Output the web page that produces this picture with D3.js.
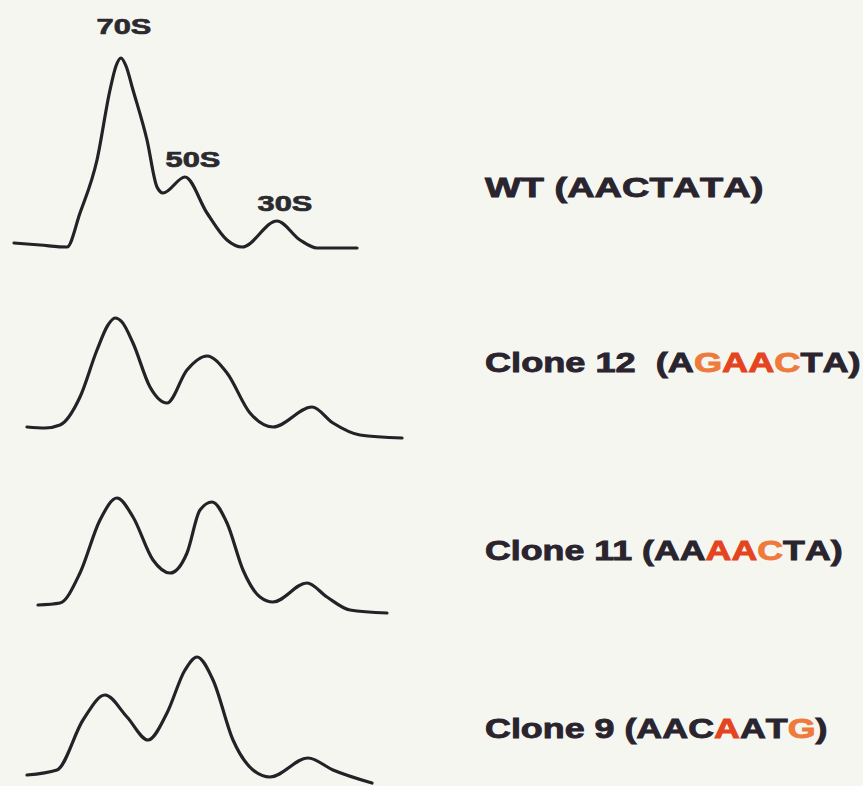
<!DOCTYPE html>
<html>
<head>
<meta charset="utf-8">
<script src="https://cdn.jsdelivr.net/npm/d3@7"></script>
<style>
  html, body { margin: 0; padding: 0; background: #f6f6f1; }
  svg { display: block; }
</style>
</head>
<body>
<svg id="chart" width="863" height="786"></svg>
<script>
// gradient fraction (x) and relative A260 (y)
const wtFraction = [0.4, 3.0, 5.7, 7.0, 8.7, 10.0, 10.6, 11.1, 11.6, 12.3, 13.7, 14.7, 15.3, 17.5, 19.7, 21.7, 23.2, 26.7, 29.0, 30.7, 34.7];
const wtAbs      = [0.035, 0.025, 0.015, 0.185, 0.45, 0.80, 0.92, 0.96, 0.92, 0.80, 0.55, 0.315, 0.285, 0.365, 0.185, 0.05, 0.015, 0.145, 0.05, 0.01, 0.01];

const c12Fraction = [1.7, 3.5, 5.0, 7.0, 8.7, 9.8, 10.5, 11.2, 12.3, 14.0, 15.7, 17.7, 19.7, 21.7, 24.0, 26.3, 30.2, 32.3, 35.0, 39.2];
const c12Abs      = [0.065, 0.06, 0.075, 0.215, 0.45, 0.575, 0.61, 0.59, 0.485, 0.265, 0.185, 0.35, 0.42, 0.335, 0.135, 0.065, 0.165, 0.085, 0.025, 0.01];

const c11Fraction = [2.8, 5.0, 7.0, 9.0, 10.7, 12.3, 14.3, 16.0, 17.7, 19.0, 20.2, 21.7, 23.3, 25.0, 26.3, 29.7, 31.7, 34.0, 37.7];
const c11Abs      = [0.05, 0.06, 0.21, 0.475, 0.585, 0.49, 0.275, 0.21, 0.31, 0.525, 0.565, 0.46, 0.225, 0.09, 0.065, 0.16, 0.09, 0.025, 0.01];

const c9Fraction = [1.7, 4.7, 7.3, 9.5, 11.7, 13.8, 15.7, 17.5, 18.7, 20.3, 22.3, 24.3, 26.0, 29.8, 32.3, 36.2];
const c9Abs      = [0.05, 0.075, 0.325, 0.45, 0.34, 0.225, 0.36, 0.575, 0.64, 0.525, 0.225, 0.075, 0.04, 0.135, 0.075, 0.01];

const sampleNames = ["WT", "Clone 12 ", "Clone 11", "Clone 9"];
const sequences   = ["AACTATA", "AGAACTA", "AAAACTA", "AACAATG"];
// per letter: 0 = unchanged, 1 = red, 2 = orange
const seqMarks    = [
  [0, 0, 0, 0, 0, 0, 0],
  [0, 2, 1, 1, 2, 0, 0],
  [0, 0, 1, 1, 2, 0, 0],
  [0, 0, 0, 1, 0, 0, 2]
];

const peakNames    = ["70S", "50S", "30S"];
const peakFraction = [11.1, 17.5, 26.7];
const peakAbs      = [0.96, 0.365, 0.145];

// layout only
const panelBase  = [250, 440, 615, 785];
const labelBase  = [197, 372, 560, 738];
const labelWidth = [270, 373, 355, 340];
const markColor  = ["#29242e", "#e4441e", "#ee7a3c"];

const profiles = [
  { x: wtFraction, y: wtAbs },
  { x: c12Fraction, y: c12Abs },
  { x: c11Fraction, y: c11Abs },
  { x: c9Fraction, y: c9Abs }
];

const svg = d3.select("#chart");

const x = d3.scaleLinear().domain([0, 40]).range([10, 410]);

profiles.forEach(function(p, i) {
  const y = d3.scaleLinear().domain([0, 1]).range([panelBase[i], panelBase[i] - 200]);
  const pts = p.x.map(function(v, k) { return [v, p.y[k]]; });

  const line = d3.line()
      .x(function(d) { return x(d[0]); })
      .y(function(d) { return y(d[1]); })
      .curve(d3.curveMonotoneX);

  svg.append("path")
      .datum(pts)
      .attr("d", line)
      .attr("fill", "none")
      .attr("stroke", "#232226")
      .attr("stroke-width", 3.2)
      .attr("stroke-linejoin", "round")
      .attr("stroke-linecap", "round");

  // sample label with coloured sequence
  const t = svg.append("text")
      .attr("x", 0)
      .attr("y", 0)
      .attr("font-family", "'Liberation Sans', Arial, sans-serif")
      .attr("font-weight", "bold")
      .attr("font-size", 28)
      .attr("fill", markColor[0])
      .attr("stroke", markColor[0])
      .attr("stroke-width", 0.9)
      .attr("xml:space", "preserve");
  t.append("tspan").text(sampleNames[i] + " (");
  sequences[i].split("").forEach(function(ch, k) {
    t.append("tspan")
        .attr("fill", markColor[seqMarks[i][k]])
        .attr("stroke", markColor[seqMarks[i][k]])
        .text(ch);
  });
  t.append("tspan").text(")");
  const w = t.node().getComputedTextLength();
  t.attr("transform", "translate(485," + labelBase[i] + ") scale(" + (labelWidth[i] / w) + ",1)");
});

// peak labels over the WT profile
const yTop = d3.scaleLinear().domain([0, 1]).range([panelBase[0], panelBase[0] - 200]);
peakNames.forEach(function(name, k) {
  const t = svg.append("text")
      .attr("font-family", "'Liberation Sans', Arial, sans-serif")
      .attr("font-weight", "bold")
      .attr("font-size", 22)
      .attr("fill", "#2b2a2e")
      .attr("stroke", "#2b2a2e")
      .attr("stroke-width", 0.7)
      .attr("text-anchor", "middle")
      .text(name);
  const px = x(peakFraction[k]) + (k === 0 ? 3 : 8);
  const py = yTop(peakAbs[k]) - (k === 0 ? 24 : 10);
  t.attr("transform", "translate(" + px + "," + py + ") scale(1.4,1)");
});
</script>
</body>
</html>
